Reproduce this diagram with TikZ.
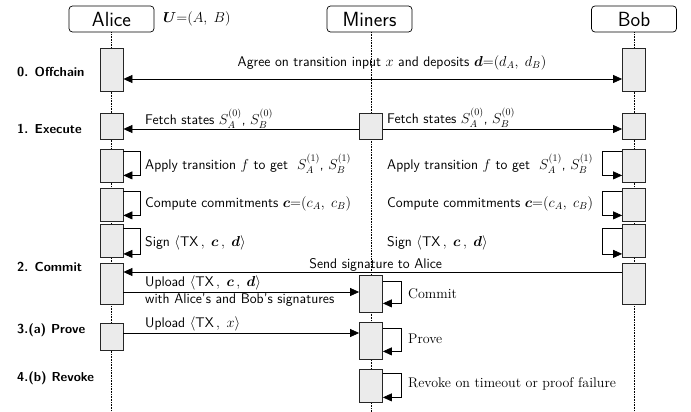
\documentclass[tikz,border=0pt]{standalone}
\usepackage{fontspec}
\usepackage{amsmath,bm}
\usetikzlibrary{arrows.meta,calc}
\begin{document}
\begin{tikzpicture}[x=1pt,y=-1pt,
  hdr/.style={draw, rounded corners=3.5pt, minimum width=85pt, minimum height=26pt, font=\fontsize{20.5}{22}\selectfont\sffamily, inner sep=0pt, line width=0.7pt},
  act/.style={draw=black!85, fill=black!8, minimum width=23pt, inner sep=0pt, line width=0.8pt},
  msg/.style={-{Triangle[length=9pt,width=8pt]}, line width=0.7pt},
  msgb/.style={{Triangle[length=9pt,width=8pt]}-{Triangle[length=9pt,width=8pt]}, line width=0.7pt},
  txt/.style={font=\fontsize{14}{16}\selectfont\sffamily, inner sep=0pt, anchor=west},
  rtxt/.style={font=\fontsize{14}{16}\selectfont\rmfamily, inner sep=0pt, anchor=west},
  lbl/.style={font=\fontsize{13}{15}\selectfont\sffamily\bfseries, inner sep=0pt, anchor=west},
  life/.style={densely dotted, line width=0.6pt}
]
\useasboundingbox (0,0) rectangle (691,412);

% headers
\node[hdr] (alice) at (111.5,19) {Alice};
\node[hdr] (miners) at (369.5,19) {Miners};
\node[hdr] (bob) at (634,19) {Bob};
\node[txt] (u) at (163,19) {$\bm U{=}(A,\; B)$};

% lifelines
\coordinate (aend) at (111.5,412);
\coordinate (mtop) at (371,32);
\coordinate (mend) at (371,412);
\coordinate (bend) at (634,412);
\draw[life] (alice.south) -- (aend);
\draw[life] (mtop) -- (mend);
\draw[life] (bob.south) -- (bend);

% step labels
\node[lbl] (l0) at (17,72) {0. Offchain};
\node[lbl] (l1) at (17,129) {1. Execute};
\node[lbl] (l2) at (17,267) {2. Commit};
\node[lbl] (l3) at (17,330) {3.(a) Prove};
\node[lbl] (l4) at (17,378) {4.(b) Revoke};

% activation boxes
\node[act, minimum height=43pt] (A0) at (111.5,69.5) {};
\node[act, minimum height=43pt] (B0) at (634,69.5) {};
\node[act, minimum height=26pt] (A1) at (111.5,126) {};
\node[act, minimum height=26pt] (M1) at (371,126) {};
\node[act, minimum height=26pt] (B1) at (634,126) {};
\node[act, minimum height=33pt] (A2) at (111.5,165.5) {};
\node[act, minimum height=33pt] (B2) at (634,165.5) {};
\node[act, minimum height=33pt] (A3) at (111.5,204.5) {};
\node[act, minimum height=33pt] (B3) at (634,204.5) {};
\node[act, minimum height=33pt] (A4) at (111.5,241) {};
\node[act, minimum height=33pt] (B4) at (634,241) {};
\node[act, minimum height=41pt] (A5) at (111.5,283.5) {};
\node[act, minimum height=41pt] (B5) at (634,283.5) {};
\node[act, minimum height=37pt] (M5) at (371,293.5) {};
\node[act, minimum height=27pt] (A6) at (111.5,336.5) {};
\node[act, minimum height=37pt] (M6) at (371,340.5) {};
\node[act, minimum height=33pt] (M7) at (371,385.5) {};

% 0. offchain
\draw[msgb] ($(A0.east)+(0,9.5)$) -- ($(B0.west)+(0,9.5)$);
\node[txt, anchor=center] (t0) at (392,63) {Agree on transition input $x$ and deposits $\bm d{=}(d_A,\; d_B)$};

% 1. execute
\draw[msg] ($(M1.west)+(0,3)$) -- ($(A1.east)+(0,3)$);
\draw[msg] ($(M1.east)+(0,3)$) -- ($(B1.west)+(0,3)$);
\node[txt] (t1a) at (145,119) {Fetch states $S_A^{(0)}$, $S_B^{(0)}$};
\node[txt] (t1b) at (387,118) {Fetch states $S_A^{(0)}$, $S_B^{(0)}$};

% self loops Alice
\draw[msg] ($(A2.north east)+(0,3)$) -- ++(17,0) |- ($(A2.south east)+(0,-7)$);
\draw[msg] ($(A3.north east)+(0,4)$) -- ++(17,0) |- ($(A3.south east)+(0,-6)$);
\draw[msg] ($(A4.north east)+(0,4)$) -- ++(17,0) |- ($(A4.south east)+(0,-4)$);
% self loops Bob
\draw[msg] ($(B2.north west)+(0,3)$) -- ++(-19.5,0) |- ($(B2.south west)+(0,-7)$);
\draw[msg] ($(B3.north west)+(0,4)$) -- ++(-19.5,0) |- ($(B3.south west)+(0,-6)$);
\draw[msg] ($(B4.north west)+(0,4)$) -- ++(-19.5,0) |- ($(B4.south west)+(0,-4)$);

\node[txt] (t2a) at (145,164) {Apply transition $f$ to get\ \ $S_A^{(1)}$, $S_B^{(1)}$};
\node[txt] (t2b) at (387,164) {Apply transition $f$ to get\ \ $S_A^{(1)}$, $S_B^{(1)}$};
\node[txt] (t3a) at (145,204) {Compute commitments $\bm c{=}(c_A,\; c_B)$};
\node[txt] (t3b) at (387,204) {Compute commitments $\bm c{=}(c_A,\; c_B)$};
\node[txt] (t4a) at (145,243) {Sign $\langle\text{TX}\,,\; \bm c\,,\; \bm d\rangle$};
\node[txt] (t4b) at (387,243) {Sign $\langle\text{TX}\,,\; \bm c\,,\; \bm d\rangle$};

% 2. commit
\draw[msg] ($(B5.west)+(0,-11.5)$) -- node[midway, above, inner sep=0.5pt, xshift=3pt, font=\fontsize{14}{16}\selectfont\sffamily] {Send signature to Alice} ($(A5.east)+(0,-11.5)$);
\draw[msg] ($(A5.east)+(0,8.5)$) -- ($(M5.west)+(0,-1.5)$);
\node[txt] (t5a) at (145,283) {Upload $\langle\text{TX}\,,\; \bm c\,,\; \bm d\rangle$};
\node[txt] (t5b) at (145,300) {with Alice's and Bob's signatures};
\draw[msg] ($(M5.north east)+(0,7)$) -- ++(18.5,0) |- ($(M5.south east)+(0,-9)$);
\node[rtxt] (t5c) at (408,294) {Commit};

% 3. prove
\draw[msg] ($(A6.east)+(0,-3.5)$) -- ($(M6.west)+(0,-7.5)$);
\node[txt] (t6a) at (145,324) {Upload $\langle\text{TX}\,,\; x\rangle$};
\draw[msg] ($(M6.north east)+(0,7)$) -- ++(18.5,0) |- ($(M6.south east)+(0,-8)$);
\node[rtxt] (t6b) at (408,339) {Prove};

% 4. revoke
\draw[msg] ($(M7.north east)+(0,5)$) -- ++(18.5,0) |- ($(M7.south east)+(0,-5)$);
\node[rtxt] (t7) at (408,384) {Revoke on timeout or proof failure};
\end{tikzpicture}
\end{document}
